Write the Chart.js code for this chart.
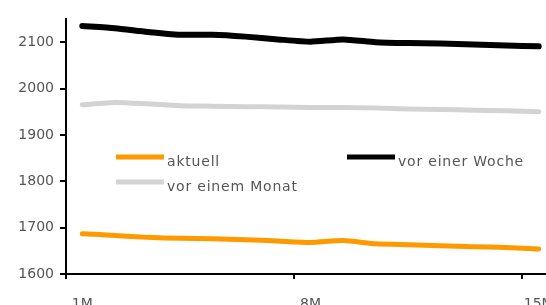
<!DOCTYPE html>
<html>
<head>
<meta charset="utf-8">
<script src="https://cdn.jsdelivr.net/npm/chart.js@4.4.1/dist/chart.umd.min.js"></script>
<style>
  html, body { margin: 0; padding: 0; background: #fff; overflow: hidden; }
</style>
</head>
<body>
<canvas id="chart" width="555" height="305"></canvas>
<script>
// categories (months)
const months = ['1M','2M','3M','4M','5M','6M','7M','8M','9M','10M','11M','12M','13M','14M','15M'];
// series values
const aktuell = [1687, 1683, 1679, 1677, 1676, 1674, 1671, 1668, 1672, 1665, 1663, 1661, 1659, 1657, 1654];
const vorEinerWoche = [2135, 2130, 2122, 2116, 2116, 2112, 2106, 2101, 2106, 2100, 2098, 2097, 2095, 2093, 2091];
const vorEinemMonat = [1965, 1970, 1967, 1963, 1962, 1961, 1960, 1959, 1959, 1958, 1956, 1955, 1953, 1952, 1950];
// y tick labels
const yTicks = [1600, 1700, 1800, 1900, 2000, 2100];

const FONT = 'DejaVu Sans';
const TEXT = '#555';

// legend inside the plot, drawn at fixed spots
const legendSpots = [
  { x: 116, y: 157 },
  { x: 347, y: 157 },
  { x: 116, y: 182 }
];
const insideLegend = {
  id: 'insideLegend',
  afterDraw(chart) {
    const ctx = chart.ctx;
    ctx.save();
    chart.data.datasets.forEach((ds, i) => {
      const p = legendSpots[i];
      ctx.strokeStyle = ds.borderColor;
      ctx.lineWidth = 5;
      ctx.lineCap = 'butt';
      ctx.beginPath();
      ctx.moveTo(p.x, p.y);
      ctx.lineTo(p.x + 48, p.y);
      ctx.stroke();
      ctx.fillStyle = TEXT;
      ctx.font = '14px "' + FONT + '"';
      ctx.letterSpacing = '0.8px';
      ctx.textBaseline = 'alphabetic';
      ctx.fillText(ds.label, p.x + 51, p.y + 9);
    });
    ctx.restore();
  }
};

function line(label, data, color, width) {
  return {
    label: label,
    data: data,
    borderColor: color,
    borderWidth: width,
    borderCapStyle: 'round',
    pointRadius: 0,
    tension: 0.2,
    fill: false
  };
}

new Chart(document.getElementById('chart').getContext('2d'), {
  type: 'line',
  data: {
    labels: months,
    datasets: [
      line('aktuell', aktuell, '#FF9900', 5),
      line('vor einer Woche', vorEinerWoche, '#000000', 6),
      line('vor einem Monat', vorEinemMonat, '#D3D3D3', 5)
    ]
  },
  options: {
    responsive: false,
    animation: false,
    layout: { padding: { top: 19, left: 0, right: 0, bottom: 0 } },
    plugins: {
      legend: { display: false },
      tooltip: { enabled: false }
    },
    scales: {
      x: {
        offset: true,
        grid: {
          offset: true,
          drawOnChartArea: false,
          tickLength: 5,
          lineWidth: 2,
          color: ctx => (ctx.index % 7 === 0 ? '#000' : 'rgba(0,0,0,0)')
        },
        border: { color: '#000', width: 2 },
        ticks: {
          autoSkip: false,
          maxRotation: 0,
          padding: 17,
          color: TEXT,
          font: { family: FONT, size: 14 },
          callback: function (v, i) { return i % 7 === 0 ? months[i] : ''; }
        },
        afterFit: s => {
          s.height = 31;
          s.paddingLeft = 0;
          s.paddingRight = 0;
        }
      },
      y: {
        min: 1600,
        max: 2150,
        afterBuildTicks: s => { s.ticks = yTicks.map(v => ({ value: v })); },
        grid: {
          drawOnChartArea: false,
          tickLength: 6,
          lineWidth: 2,
          color: '#000'
        },
        border: { color: '#000', width: 2 },
        ticks: {
          padding: 6,
          color: TEXT,
          font: { family: FONT, size: 14 },
          callback: v => String(v)
        },
        afterFit: s => {
          s.width = 66;
          s.paddingTop = 0;
          s.paddingBottom = 0;
        }
      }
    }
  },
  plugins: [insideLegend]
});
</script>
</body>
</html>
